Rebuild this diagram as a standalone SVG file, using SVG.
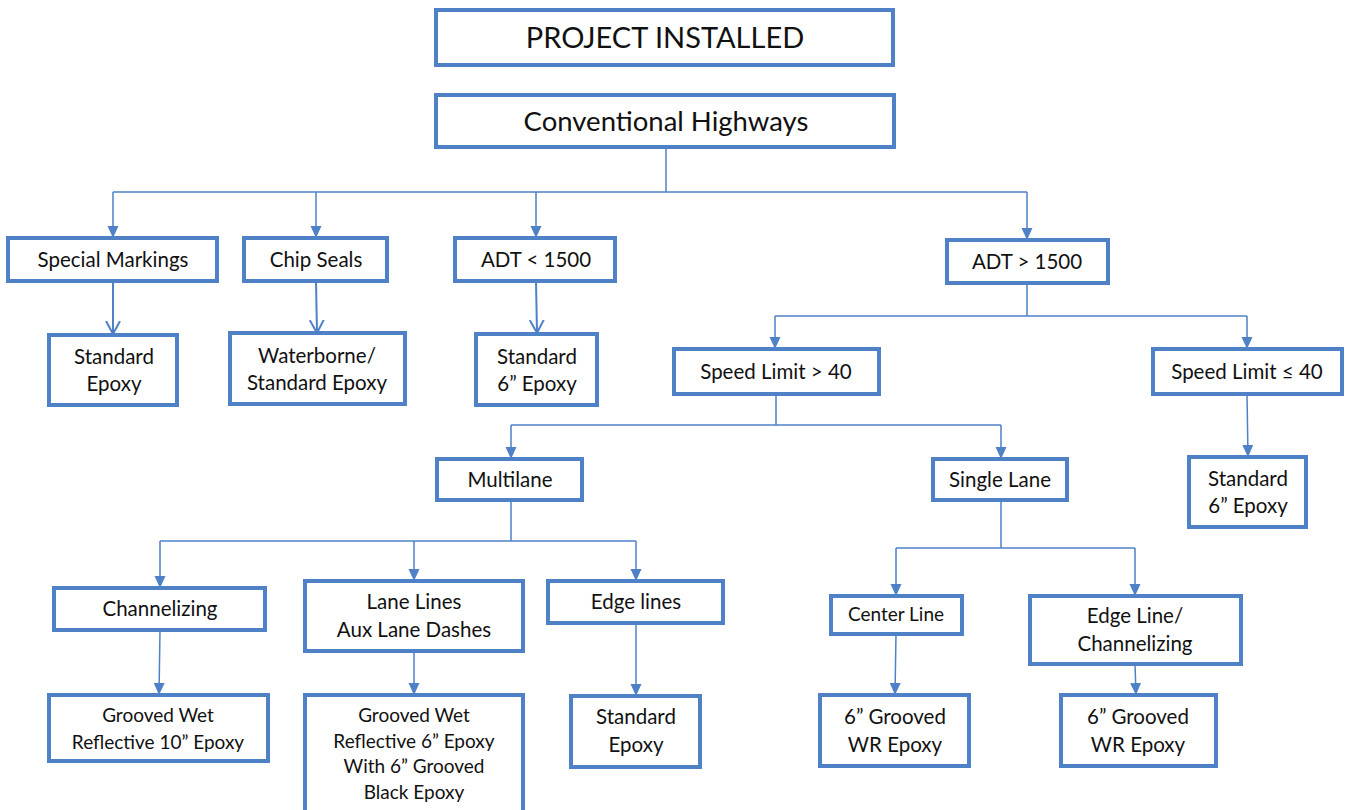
<svg xmlns="http://www.w3.org/2000/svg" width="1347" height="810" viewBox="0 0 1347 810">
<defs>
<style>
.box{fill:#fff;stroke:#4f81c7;stroke-width:4}
.t{font-family:Lato,"Open Sans","Liberation Sans",sans-serif;fill:#111;text-anchor:middle;font-size:20.5px}
.s{font-size:19px}
.c{fill:none;stroke:#4f81c7;stroke-width:1.5}
.c2{fill:none;stroke:#4f81c7;stroke-width:2}
</style>
<marker id="tri" markerUnits="userSpaceOnUse" markerWidth="12" markerHeight="12" viewBox="0 0 12 12" refX="12" refY="6" orient="auto">
<path d="M0,0.5 L12,6 L0,11.5 Z" fill="#4f81c7"/>
</marker>
<marker id="vee" markerUnits="userSpaceOnUse" markerWidth="14" markerHeight="16" viewBox="0 0 14 16" refX="13" refY="8" orient="auto">
<path d="M0,1 L13,8 L0,15" fill="none" stroke="#4f81c7" stroke-width="2"/>
</marker>
</defs>
<rect width="1347" height="810" fill="#fff"/>
<g id="connectors">
<path class="c" d="M666,147 V192"/>
<path class="c" d="M113,192 H1027"/>
<path class="c" d="M113,192 V238" marker-end="url(#tri)"/>
<path class="c" d="M316,192 V238" marker-end="url(#tri)"/>
<path class="c" d="M536,192 V238" marker-end="url(#tri)"/>
<path class="c" d="M1027,192 V240" marker-end="url(#tri)"/>
<path class="c2" d="M113,281 V334" marker-end="url(#vee)"/>
<path class="c2" d="M316,281 L317,333" marker-end="url(#vee)"/>
<path class="c2" d="M536,281 L537,333" marker-end="url(#vee)"/>
<path class="c" d="M1027,283 V316 M775,316 H1247"/>
<path class="c" d="M775,316 V349" marker-end="url(#tri)"/>
<path class="c" d="M1247,316 V349" marker-end="url(#tri)"/>
<path class="c" d="M1247,394 L1248,457" marker-end="url(#tri)"/>
<path class="c" d="M776,394 V425 M511,425 H1001"/>
<path class="c" d="M511,425 V459" marker-end="url(#tri)"/>
<path class="c" d="M1001,425 V459" marker-end="url(#tri)"/>
<path class="c" d="M511,500 V541 M160,541 H636"/>
<path class="c" d="M160,541 V588" marker-end="url(#tri)"/>
<path class="c" d="M414,541 V581" marker-end="url(#tri)"/>
<path class="c" d="M636,541 V581" marker-end="url(#tri)"/>
<path class="c" d="M1001,500 V548 M896,548 H1135"/>
<path class="c" d="M896,548 V596" marker-end="url(#tri)"/>
<path class="c" d="M1135,548 V596" marker-end="url(#tri)"/>
<path class="c" d="M160,630 L159,695" marker-end="url(#tri)"/>
<path class="c" d="M414,651 V695" marker-end="url(#tri)"/>
<path class="c" d="M636,623 V696" marker-end="url(#tri)"/>
<path class="c" d="M896,634 L895,695" marker-end="url(#tri)"/>
<path class="c" d="M1135,664 L1136,695" marker-end="url(#tri)"/>
</g>
<g id="project-installed"><rect class="box" x="436" y="10" width="457" height="55"/><text class="t" x="665" y="48" style="font-size:29px">PROJECT INSTALLED</text></g>
<g id="conventional-highways"><rect class="box" x="436" y="95" width="458" height="52"/><text class="t" x="666" y="131" style="font-size:27.5px">Conventional Highways</text></g>
<g id="special-markings"><rect class="box" x="8" y="238" width="209" height="43"/><text class="t" x="113" y="267">Special Markings</text></g>
<g id="chip-seals"><rect class="box" x="244" y="238" width="143" height="43"/><text class="t" x="316" y="267">Chip Seals</text></g>
<g id="adt-lt"><rect class="box" x="455" y="238" width="160" height="43"/><text class="t" x="536" y="267">ADT &lt; 1500</text></g>
<g id="adt-gt"><rect class="box" x="947" y="240" width="161" height="43"/><text class="t" x="1027" y="269">ADT &gt; 1500</text></g>
<g id="standard-epoxy-1"><rect class="box" x="49" y="335" width="128" height="70"/><text class="t" x="114" y="364">Standard</text><text class="t" x="114" y="391">Epoxy</text></g>
<g id="waterborne"><rect class="box" x="230" y="333" width="175" height="71"/><text class="t" x="317" y="363">Waterborne/</text><text class="t" x="317" y="390">Standard Epoxy</text></g>
<g id="standard-6-epoxy-1"><rect class="box" x="476" y="334" width="121" height="71"/><text class="t" x="537" y="364">Standard</text><text class="t" x="537" y="391">6” Epoxy</text></g>
<g id="speed-gt-40"><rect class="box" x="674" y="349" width="205" height="45"/><text class="t" x="776" y="379">Speed Limit &gt; 40</text></g>
<g id="speed-le-40"><rect class="box" x="1153" y="349" width="189" height="45"/><text class="t" x="1247" y="379">Speed Limit ≤ 40</text></g>
<g id="standard-6-epoxy-2"><rect class="box" x="1189" y="457" width="117" height="70"/><text class="t" x="1248" y="486">Standard</text><text class="t" x="1248" y="513">6” Epoxy</text></g>
<g id="multilane"><rect class="box" x="437" y="459" width="145" height="41"/><text class="t" x="510" y="487">Multilane</text></g>
<g id="single-lane"><rect class="box" x="933" y="459" width="134" height="41"/><text class="t" x="1000" y="487">Single Lane</text></g>
<g id="channelizing"><rect class="box" x="54" y="588" width="211" height="42"/><text class="t" x="160" y="616">Channelizing</text></g>
<g id="lane-lines"><rect class="box" x="305" y="581" width="218" height="70"/><text class="t" x="414" y="609">Lane Lines</text><text class="t" x="414" y="637">Aux Lane Dashes</text></g>
<g id="edge-lines"><rect class="box" x="548" y="581" width="175" height="42"/><text class="t" x="636" y="609">Edge lines</text></g>
<g id="center-line"><rect class="box" x="831" y="596" width="131" height="38"/><text class="t s" x="896" y="621">Center Line</text></g>
<g id="edge-line-channelizing"><rect class="box" x="1030" y="596" width="211" height="68"/><text class="t" x="1135" y="623">Edge Line/</text><text class="t" x="1135" y="651">Channelizing</text></g>
<g id="grooved-10"><rect class="box" x="49" y="695" width="219" height="66"/><text class="t s" x="158" y="722">Grooved Wet</text><text class="t s" x="158" y="749">Reflective 10” Epoxy</text></g>
<g id="grooved-6-black"><rect class="box" x="305" y="695" width="218" height="120"/><text class="t s" x="414" y="722">Grooved Wet</text><text class="t s" x="414" y="748">Reflective 6” Epoxy</text><text class="t s" x="414" y="773">With 6” Grooved</text><text class="t s" x="414" y="799">Black Epoxy</text></g>
<g id="standard-epoxy-2"><rect class="box" x="571" y="696" width="129" height="71"/><text class="t" x="636" y="724">Standard</text><text class="t" x="636" y="752">Epoxy</text></g>
<g id="grooved-wr-1"><rect class="box" x="820" y="695" width="149" height="71"/><text class="t" x="895" y="724">6” Grooved</text><text class="t" x="895" y="752">WR Epoxy</text></g>
<g id="grooved-wr-2"><rect class="box" x="1061" y="695" width="155" height="71"/><text class="t" x="1138" y="724">6” Grooved</text><text class="t" x="1138" y="752">WR Epoxy</text></g>
</svg>
